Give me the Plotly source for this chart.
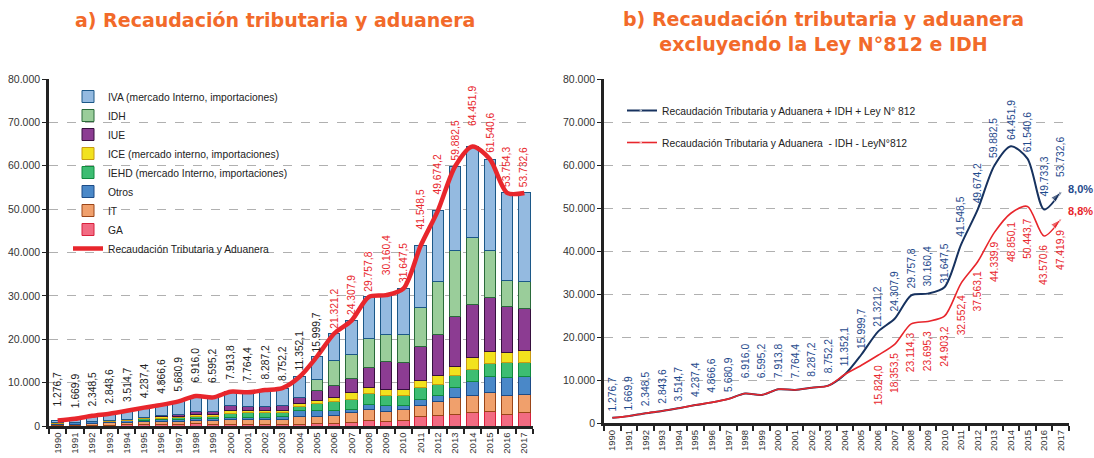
import plotly.graph_objects as go

years = [str(y) for y in range(1990, 2018)]

# Left chart: components (millions Bs)
ga   = [100, 120, 150, 200, 250, 300, 350, 400, 500, 450, 400, 350, 350, 350, 400, 500, 540, 920, 1310, 1080, 1310, 2080, 2310, 2690, 3000, 3230, 2690, 3000]
it   = [250, 300, 400, 500, 550, 650, 700, 750, 850, 850, 1100, 1100, 1150, 1150, 1680, 1800, 1920, 2080, 2610, 2150, 2380, 2690, 3230, 3770, 4080, 4390, 4390, 4310]
otros= [300, 350, 400, 450, 500, 400, 400, 400, 450, 400, 400, 500, 500, 600, 1380, 1160, 1000, 920, 1080, 1460, 1080, 1380, 1540, 2310, 3070, 3690, 4000, 4000]
iehd = [0, 0, 0, 0, 0, 300, 350, 400, 500, 450, 1000, 1050, 1100, 1100, 1080, 1840, 2080, 2230, 2540, 2390, 2150, 2620, 2540, 2920, 2930, 3000, 3460, 3230]
ice  = [100, 150, 200, 200, 250, 300, 350, 350, 450, 450, 600, 500, 450, 450, 610, 620, 920, 1470, 1380, 1380, 1540, 1770, 2070, 2080, 2770, 2920, 2460, 2920]
iue  = [0, 0, 0, 0, 0, 0, 300, 450, 700, 850, 1150, 1000, 1050, 1050, 1390, 2310, 2920, 3230, 4620, 6310, 6080, 7690, 9460, 11380, 12230, 12310, 10460, 9540]
idh  = [0, 0, 0, 0, 0, 0, 0, 0, 0, 0, 0, 0, 0, 0, 0, 2460, 5620, 5750, 6690, 6380, 6610, 9000, 12080, 15390, 15460, 11000, 6160, 6380]
total = [1276.7, 1669.9, 2348.5, 2843.6, 3514.7, 4237.4, 4866.6, 5680.9, 6916.0, 6595.2,
         7913.8, 7764.4, 8287.2, 8752.2, 11352.1, 15999.7, 21321.2, 24307.9, 29757.8, 30160.4,
         31647.5, 41548.5, 49674.2, 59882.5, 64451.9, 61540.6, 53754.3, 53732.6]
iva = [round(t - (a + b + c + d + e + f + g), 1)
       for t, a, b, c, d, e, f, g in zip(total, ga, it, otros, iehd, ice, iue, idh)]

# Right chart
total_b = [1276.7, 1669.9, 2348.5, 2843.6, 3514.7, 4237.4, 4866.6, 5680.9, 6916.0, 6595.2,
           7913.8, 7764.4, 8287.2, 8752.2, 11352.1, 15999.7, 21321.2, 24307.9, 29757.8, 30160.4,
           31647.5, 41548.5, 49674.2, 59882.5, 64451.9, 61540.6, 49733.3, 53732.6]
excl_b = [1276.7, 1669.9, 2348.5, 2843.6, 3514.7, 4237.4, 4866.6, 5680.9, 6916.0, 6595.2,
          7913.8, 7764.4, 8287.2, 8752.2, 11352.1, 13500.0, 15824.0, 18353.5, 23114.3, 23695.3,
          24903.2, 32552.4, 37563.1, 44339.9, 48850.1, 50443.7, 43570.6, 47419.9]
excl_labeled_from = 2006
growth_labels = ["8,0%", "8,8%"]

# label vertical offsets (px) - presentation only
off_left = [12, 9, 7, 8, 7, 7, 9, 8, 12, 12, 10, 9, 8, 5, 4, 2, 3, 3, 3, 18, 4, 14, 14, 4, 18, 4, 4, 4]
off_b = [4, 4, 5, 5, 5, 6, 8, 5, 13, 15, 9, 10, 9, 10, 6, 4, 3, 5, 5, 5, 2, 6, 4, 6, 4, 5, 11, 13]
off_r = [8, 7, 6, 8, 8, 10, 8, 7, 7, 10, 7, 9]


def fmt(v):
    s = f"{v:,.1f}"
    return s.replace(",", "X").replace(".", ",").replace("X", ".")


NARROW = "Liberation Sans, Arial, sans-serif"
RED = "#e8262c"
NAVY = "#17325f"
BLUE_LBL = "#1f4a8c"

fig = go.Figure()

comps = [
    ("GA", ga, "#f26b82", "#d8203c", 8),
    ("IT", it, "#f0a06c", "#9a4518", 7),
    ("Otros", otros, "#4a88c8", "#1d4b86", 6),
    ("IEHD (mercado Interno, importaciones)", iehd, "#3dbd72", "#108a3e", 5),
    ("ICE (mercado interno, importaciones)", ice, "#f2e21e", "#c89a12", 4),
    ("IUE", iue, "#8c3c92", "#36103e", 3),
    ("IDH", idh, "#9acd9a", "#2a6a3a", 2),
    ("IVA (mercado Interno, importaciones)", iva, "#94bae0", "#1c5888", 1),
]
for name, vals, fill, edge, rank in comps:
    fig.add_trace(go.Bar(
        x=years, y=vals, name=name, marker=dict(color=fill, line=dict(color=edge, width=1)),
        xaxis="x", yaxis="y", legend="legend", legendrank=rank, width=0.66, hoverinfo="skip",
    ))

fig.add_trace(go.Scatter(
    x=years, y=total, name="Recaudación Tributaria y Aduanera", mode="lines",
    line=dict(color=RED, width=4.5, shape="spline", smoothing=0.8),
    xaxis="x", yaxis="y", legend="legend", legendrank=9, hoverinfo="skip",
))

n = len(years)
fig.add_trace(go.Scatter(
    x=years, y=total_b, name="Recaudación Tributaria y Aduanera + IDH + Ley N° 812",
    mode="lines+markers", line=dict(color=NAVY, width=2, shape="spline", smoothing=0.8),
    marker=dict(symbol="arrow", angleref="previous", size=[0] * (n - 1) + [11], color=NAVY),
    xaxis="x2", yaxis="y2", legend="legend2", legendgroup="a", hoverinfo="skip",
))
fig.add_trace(go.Scatter(
    x=years, y=excl_b, name="Recaudación Tributaria y Aduanera  - IDH - LeyN°812",
    mode="lines+markers", line=dict(color=RED, width=1.6, shape="spline", smoothing=0.8),
    marker=dict(symbol="arrow", angleref="previous", size=[0] * (n - 1) + [11], color=RED),
    xaxis="x2", yaxis="y2", legend="legend2", legendgroup="b", hoverinfo="skip",
))

LBL = 10.3
ann = []
# annotations on category axes use the category index
for i, (yr, v) in enumerate(zip(years, total)):
    ann.append(dict(x=i, y=v, xref="x", yref="y", text=fmt(v), textangle=-90, showarrow=False,
                    xanchor="center", yanchor="bottom", yshift=off_left[i],
                    font=dict(family=NARROW, size=LBL, color="#222" if int(yr) <= 2005 else RED)))
for i, (yr, v) in enumerate(zip(years, total_b)):
    ann.append(dict(x=i, y=v, xref="x2", yref="y2", text=fmt(v), textangle=-90, showarrow=False,
                    xanchor="center", yanchor="bottom", yshift=off_b[i],
                    font=dict(family=NARROW, size=LBL, color=BLUE_LBL)))
j = 0
for i, (yr, v) in enumerate(zip(years, excl_b)):
    if int(yr) >= excl_labeled_from:
        ann.append(dict(x=i, y=v, xref="x2", yref="y2", text=fmt(v), textangle=-90, showarrow=False,
                        xanchor="center", yanchor="top", yshift=-off_r[j],
                        font=dict(family=NARROW, size=LBL, color=RED)))
        j += 1

ann.append(dict(x=1080 / 1094, y=1 - 189 / 458, xref="paper", yref="paper", text="<b>" + growth_labels[0] + "</b>",
                xanchor="center", yanchor="middle",
                showarrow=False, font=dict(family=NARROW, size=11, color=BLUE_LBL)))
ann.append(dict(x=1080 / 1094, y=1 - 211 / 458, xref="paper", yref="paper", text="<b>" + growth_labels[1] + "</b>",
                xanchor="center", yanchor="middle",
                showarrow=False, font=dict(family=NARROW, size=11, color=RED)))

TITLE_FONT = dict(family="DejaVu Sans, sans-serif", size=19, color="#f26a2a", weight=700)
ann.append(dict(x=275 / 1094, y=1 - 20 / 458, xref="paper", yref="paper", showarrow=False,
                xanchor="center", yanchor="middle",
                text="a) Recaudación tributaria y aduanera", font=TITLE_FONT))
ann.append(dict(x=823 / 1094, y=1 - 32 / 458, xref="paper", yref="paper", showarrow=False,
                xanchor="center", yanchor="middle",
                text="b) Recaudación tributaria y aduanera<br>excluyendo la Ley N°812 e IDH", font=TITLE_FONT))

xcommon = dict(type="category", tickson="boundaries", ticks="outside", ticklen=5, tickwidth=1.5,
               tickcolor="#222", showline=True, linecolor="#222", linewidth=2.5, tickangle=-90,
               tickfont=dict(family=NARROW, size=9.5, color="#333"), showgrid=False,
               automargin=False, range=[-0.5, n - 0.5])
ycommon = dict(range=[0, 80000], tickvals=list(range(0, 80001, 10000)), tickformat=",.0f",
               ticks="outside", ticklen=4, tickcolor="#222", showline=True, linecolor="#222", linewidth=2.5,
               showgrid=True, gridcolor="#b0b0b0", griddash="dash", gridwidth=1, automargin=False,
               tickfont=dict(family=NARROW, size=10.5, color="#333"), zeroline=False)

fig.update_layout(
    width=1094, height=458, margin=dict(l=0, r=0, t=0, b=0, autoexpand=False),
    paper_bgcolor="white", plot_bgcolor="white", separators=",.",
    barmode="stack", bargap=0.34, hovermode=False,
    xaxis=dict(domain=[49 / 1094, 533 / 1094], anchor="y", **xcommon),
    yaxis=dict(domain=[(458 - 426) / 458, (458 - 79) / 458], anchor="x", **ycommon),
    xaxis2=dict(domain=[604 / 1094, 1069 / 1094], anchor="y2", **xcommon),
    yaxis2=dict(domain=[(458 - 423.3) / 458, (458 - 79.3) / 458], anchor="x2", **ycommon),
    legend=dict(x=68 / 1094, y=1 - 82 / 458, xanchor="left", yanchor="top", bgcolor="rgba(0,0,0,0)",
                font=dict(family=NARROW, size=10.3, color="#222"), traceorder="normal",
                tracegroupgap=0, itemwidth=30),
    legend2=dict(x=622 / 1094, y=1 - 96 / 458, xanchor="left", yanchor="top", bgcolor="rgba(0,0,0,0)",
                 font=dict(family=NARROW, size=10.3, color="#222"), traceorder="grouped",
                 tracegroupgap=13, itemwidth=30),
    annotations=ann, showlegend=True,
)

fig.write_html("out.html", config={"displayModeBar": False},
               post_script="document.body.style.margin='0';")
